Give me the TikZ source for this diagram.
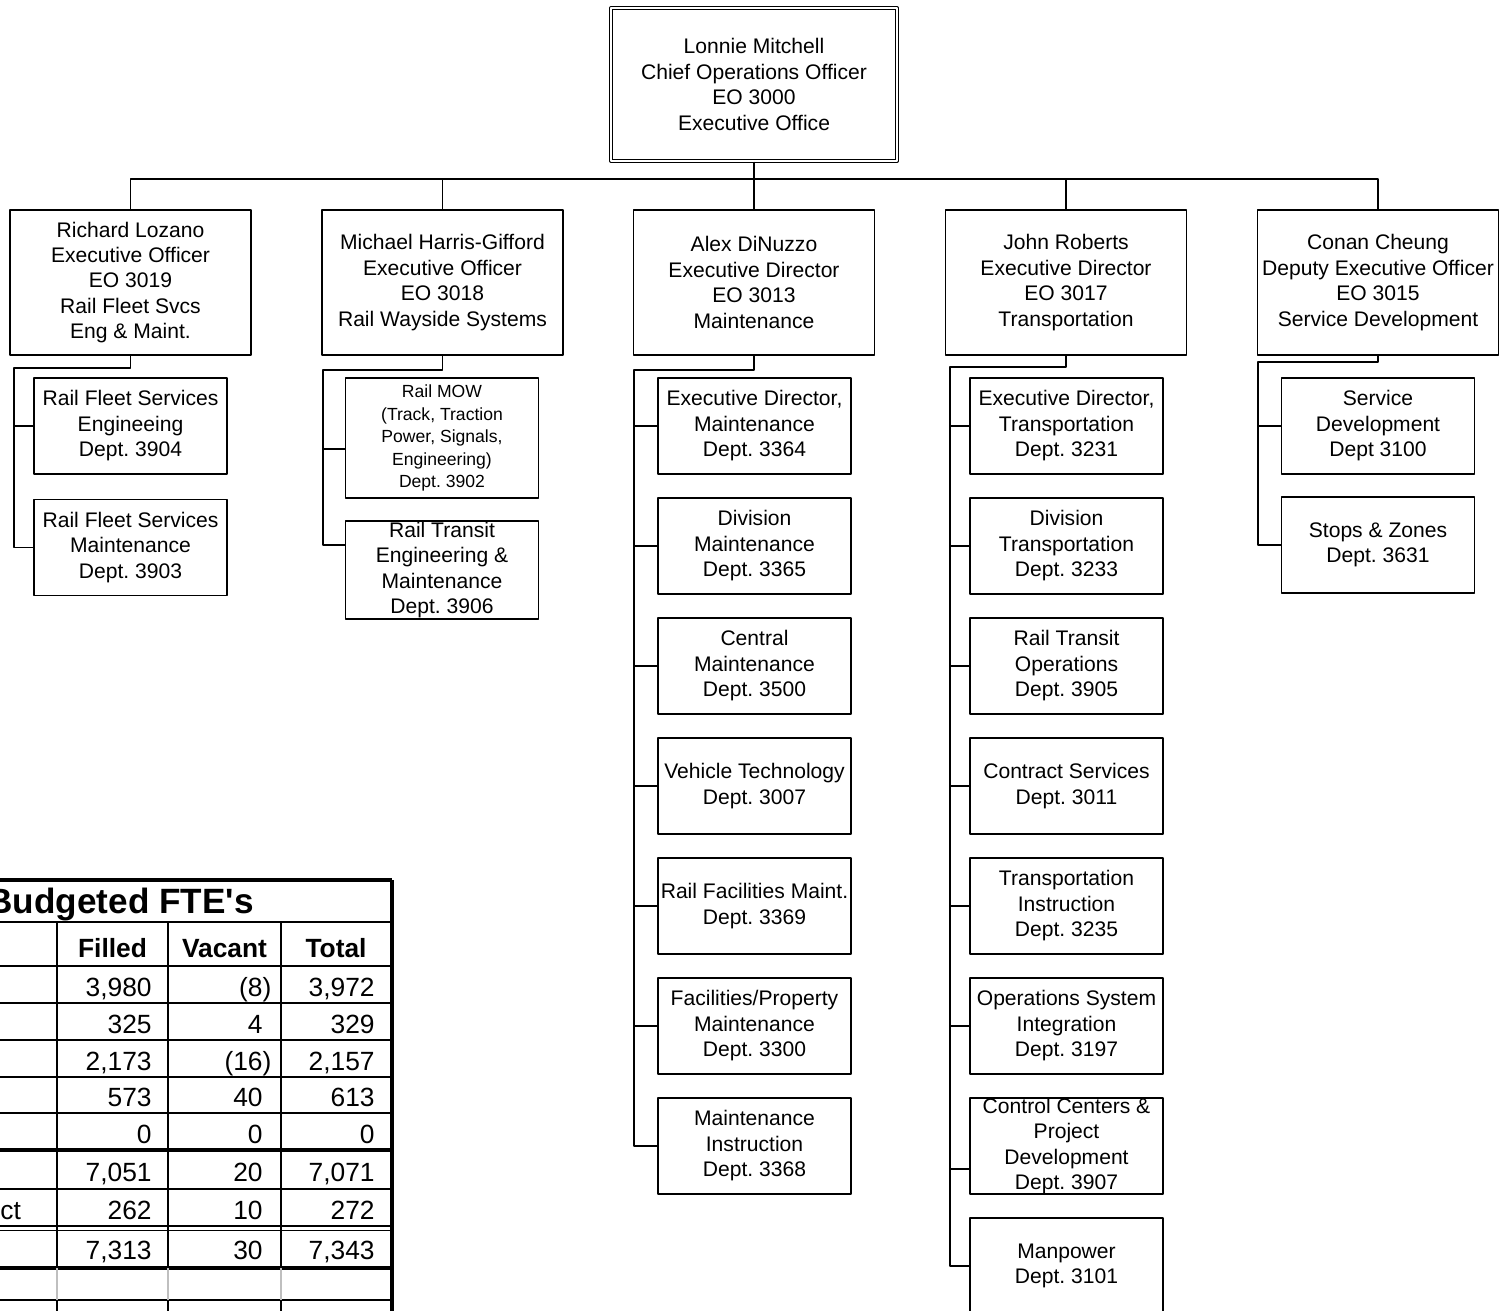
\documentclass[tikz,border=0pt]{standalone}
\usepackage{fontspec}
\setmainfont{Liberation Sans}
\frenchspacing
\newcommand\apos{\XeTeXglyph\XeTeXglyphindex"quotesingle"\relax}
\begin{document}
\begin{tikzpicture}[x=0.02cm,y=-0.02cm,line join=round,
	box/.style={draw,line width=0.8pt,align=center,inner sep=0pt,font=\fontsize{12}{14.5}\selectfont},
	chief/.style={box,double,double distance=0.9pt,minimum width=5.71cm,minimum height=3.06cm},
	headbox/.style={box,minimum width=4.82cm,minimum height=2.9cm},
	deptbox/.style={box,minimum width=3.86cm,minimum height=1.92cm},
	link/.style={line width=0.8pt},
	rule/.style={line width=1.5pt},
	hd/.style={anchor=base,inner sep=0pt,font=\fontsize{15}{18}\selectfont\bfseries},
	num/.style={anchor=base east,inner sep=0pt,font=\fontsize{15}{18}\selectfont}]
	\useasboundingbox (0,0) rectangle (1501,1311);
	\fill[white] (0,0) rectangle (1501,1311);
	\clip (0,0) rectangle (1501,1311);
	\node[chief] (coo) at (754,84.5) {Lonnie Mitchell\\Chief Operations Officer\\EO 3000\\Executive Office};
	\node[headbox] (rl) at (130.5,282.5) {Richard Lozano\\Executive Officer\\EO 3019\\Rail Fleet Svcs\\Eng \& Maint.};
	\node[headbox] (mh) at (442.5,282.5) {Michael Harris-Gifford\\Executive Officer\\EO 3018\\Rail Wayside Systems};
	\node[headbox] (ad) at (754,282.5) {Alex DiNuzzo\\Executive Director\\EO 3013\\Maintenance};
	\node[headbox] (jr) at (1066,282.5) {John Roberts\\Executive Director\\EO 3017\\Transportation};
	\node[headbox] (cc) at (1378,282.5) {Conan Cheung\\Deputy Executive Officer\\EO 3015\\Service Development};
	\node[deptbox] (f1) at (130.5,426) {Rail Fleet Services\\Engineeing\\Dept. 3904};
	\node[deptbox] (f2) at (130.5,547.5) {Rail Fleet Services\\Maintenance\\Dept. 3903};
	\node[deptbox,minimum height=2.4cm,font=\fontsize{10}{12.8}\selectfont] (w1) at (442,438) {Rail MOW\\(Track, Traction\\Power, Signals,\\Engineering)\\Dept. 3902};
	\node[deptbox,minimum height=1.96cm] (w2) at (442,570) {Rail Transit\\Engineering \&\\Maintenance\\Dept. 3906};
	\node[deptbox] (m1) at (754.5,426) {Executive Director,\\Maintenance\\Dept. 3364};
	\node[deptbox] (m2) at (754.5,546) {Division\\Maintenance\\Dept. 3365};
	\node[deptbox] (m3) at (754.5,666) {Central\\Maintenance\\Dept. 3500};
	\node[deptbox] (m4) at (754.5,786) {Vehicle Technology\\Dept. 3007};
	\node[deptbox] (m5) at (754.5,906) {Rail Facilities Maint.\\Dept. 3369};
	\node[deptbox] (m6) at (754.5,1026) {Facilities/Property\\Maintenance\\Dept. 3300};
	\node[deptbox] (m7) at (754.5,1146) {Maintenance\\Instruction\\Dept. 3368};
	\node[deptbox] (t1) at (1066.5,426) {Executive Director,\\Transportation\\Dept. 3231};
	\node[deptbox] (t2) at (1066.5,546) {Division\\Transportation\\Dept. 3233};
	\node[deptbox] (t3) at (1066.5,666) {Rail Transit\\Operations\\Dept. 3905};
	\node[deptbox] (t4) at (1066.5,786) {Contract Services\\Dept. 3011};
	\node[deptbox] (t5) at (1066.5,906) {Transportation\\Instruction\\Dept. 3235};
	\node[deptbox] (t6) at (1066.5,1026) {Operations System\\Integration\\Dept. 3197};
	\node[deptbox] (t7) at (1066.5,1146) {Control Centers \&\\Project\\Development\\Dept. 3907};
	\node[deptbox] (t8) at (1066.5,1266) {Manpower\\Dept. 3101};
	\node[deptbox] (s1) at (1378,426) {Service\\Development\\Dept 3100};
	\node[deptbox] (s2) at (1378,545) {Stops \& Zones\\Dept. 3631};
	\coordinate (bus) at (754,179);
	\draw[link] (coo.south) -- (ad.north);
	\draw[link] (rl.north) |- (bus) -| (cc.north);
	\draw[link] (mh.north) -- (mh.north |- bus);
	\draw[link] (jr.north) -- (jr.north |- bus);
	\coordinate (kf) at (14,368);
	\coordinate (kw) at (323,370);
	\coordinate (km) at (634,370);
	\coordinate (kt) at (950,367);
	\coordinate (ks) at (1258,362);
	\coordinate (w1s) at ([yshift=-0.22cm]w1.west);
	\coordinate (w2s) at ([yshift=0.5cm]w2.west);
	\coordinate (t7s) at ([yshift=-0.46cm]t7.west);
	\draw[link] (rl.south) |- (kf) |- (f2.west);
	\draw[link] (f1.west) -- (f1.west -| kf);
	\draw[link] (mh.south) |- (kw) |- (w2s);
	\draw[link] (w1s) -- (w1s -| kw);
	\draw[link] (ad.south) |- (km) |- (m7.west);
	\foreach \c in {m1,m2,m3,m4,m5,m6}
		\draw[link] (\c.west) -- (\c.west -| km);
	\draw[link] (jr.south) |- (kt) |- (t8.west);
	\foreach \c in {t1.west,t2.west,t3.west,t4.west,t5.west,t6.west,t7s}
		\draw[link] (\c) -- (\c -| kt);
	\draw[link] (cc.south) |- (ks) |- (s2.west);
	\draw[link] (s1.west) -- (s1.west -| ks);
	\draw[line width=1.8pt] (0,880) -- (392,880);
	\foreach \y in {922,966,1003,1040,1077,1113,1189,1300}
		\draw[rule] (0,\y) -- (392,\y);
	\draw[line width=2pt] (0,1150) -- (392,1150) (0,1268) -- (392,1268);
	\draw[line width=0.9pt] (0,1226) -- (392,1226) (0,1230.5) -- (392,1230.5);
	\foreach \x in {57,168,281}
		{\draw[rule] (\x,922) -- (\x,1268);
		\draw[black!25,line width=1pt] (\x,1268) -- (\x,1300);
		\draw[rule] (\x,1300) -- (\x,1311);}
	\draw[line width=1.8pt] (392,880) -- (392,1311);
	\node[anchor=base east,inner sep=0pt,font=\fontsize{20}{24}\selectfont\bfseries] (fte) at (254,913) {Budgeted FTE\apos s};
	\node[hd] (hf) at (112.5,957) {Filled};
	\node[hd] (hv) at (224.5,957) {Vacant};
	\node[hd] (ht) at (336,957) {Total};
	\foreach \y/\f/\v/\t in {996/{3,980}/{(8\rlap{)}}/{3,972},1033/325/4/329,1070/{2,173}/{(16\rlap{)}}/{2,157},1106/573/40/613,1143/0/0/0,1181/{7,051}/20/{7,071},1219/262/10/272,1259/{7,313}/30/{7,343}}
		{\node[num] (f\y) at (152,\y) {\f};
		\node[num] (v\y) at (263,\y) {\v};
		\node[num] (t\y) at (375,\y) {\t};}
	\node[anchor=base west,inner sep=0pt,font=\fontsize{15}{18}\selectfont] (ct) at (0,1219) {ct};
\end{tikzpicture}
\end{document}
